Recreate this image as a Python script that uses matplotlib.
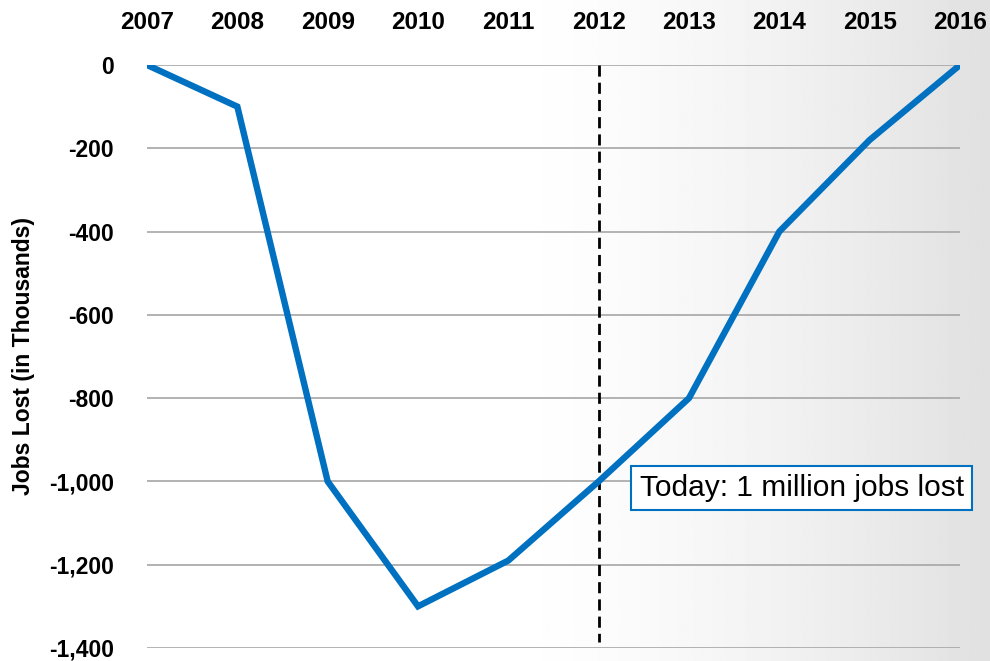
import numpy as np
import matplotlib.pyplot as plt
from matplotlib.ticker import FuncFormatter

years = [2007, 2008, 2009, 2010, 2011, 2012, 2013, 2014, 2015, 2016]
jobs_lost = [0, -100, -1000, -1300, -1190, -1000, -800, -400, -180, 0]
y_ticks = [0, -200, -400, -600, -800, -1000, -1200, -1400]
today_year = 2012
note = "Today: 1 million jobs lost"

plt.rcParams['font.family'] = ['Liberation Sans Narrow', 'Liberation Sans', 'DejaVu Sans']

fig = plt.figure(figsize=(9.9, 6.61), dpi=100)

# background gradient (white left, light gray right)
bg = fig.add_axes([0, 0, 1, 1])
grad = np.linspace(0, 1, 400)
grad = np.clip((grad - 0.5) / 0.5, 0, 1) ** 1.5
vals = 1.0 - 0.12 * grad
bg.imshow(np.tile(vals, (10, 1)), aspect='auto', cmap='gray', vmin=0, vmax=1,
          extent=[0, 1, 0, 1])
bg.axis('off')

ax = fig.add_axes([0.1485, 0.0197, 0.8212, 0.882])
ax.patch.set_alpha(0)

for t in y_ticks:
    ax.axhline(t, color='#a6a6a6', lw=1.2, zorder=1)

ax.plot(years, jobs_lost, color='#0070C0', lw=4.6, zorder=3, solid_joinstyle='miter')
ax.plot([today_year, today_year], [0, -1385], color='black', lw=2, ls=(0, (4, 2.2)), zorder=2)

ax.text(2014.25, -1016, note, fontsize=21.5, ha='center', va='center', zorder=4,
        bbox=dict(boxstyle='square,pad=0.28', fc='white', ec='#0070C0', lw=1.5))

ax.set_xlim(2007, 2016)
ax.set_ylim(-1400, 0)
ax.set_xticks(years)
ax.set_yticks(y_ticks)
ax.yaxis.set_major_formatter(FuncFormatter(lambda v, p: f"{int(v):,}"))
ax.xaxis.tick_top()
ax.tick_params(axis='both', length=0)
ax.tick_params(axis='x', pad=22, labelsize=17.5)
ax.tick_params(axis='y', pad=24, labelsize=16.5)
for lab in ax.get_xticklabels() + ax.get_yticklabels():
    lab.set_fontweight('bold')
for s in ax.spines.values():
    s.set_visible(False)
ax.set_ylabel("Jobs Lost (in Thousands)", fontsize=16.5, fontweight='bold', labelpad=10)

fig.savefig('out.png', dpi=100)
